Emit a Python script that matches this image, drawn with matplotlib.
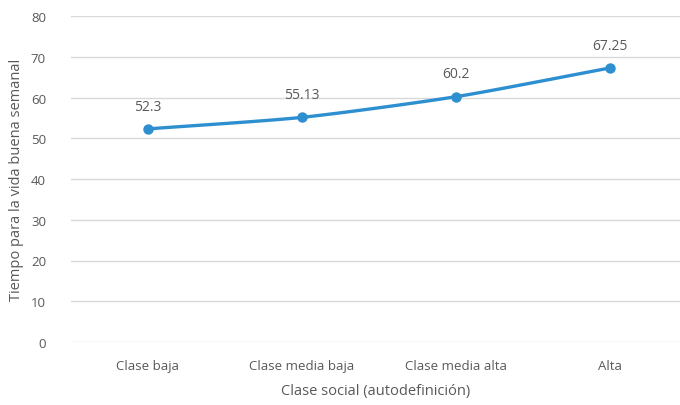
import numpy as np
import matplotlib.pyplot as plt

plt.rcParams['font.family'] = ['Open Sans', 'DejaVu Sans']

categorias = ['Clase baja', 'Clase media baja', 'Clase media alta', 'Alta']
tiempo = [52.3, 55.13, 60.2, 67.25]
etiquetas = ['52.3', '55.13', '60.2', '67.25']
yticks = [0, 10, 20, 30, 40, 50, 60, 70, 80]

color_linea = '#2E8FD0'
gris = '#595959'


def curva_suave(x, y, n=30, k=0.35):
    # curva suavizada tipo Excel (Catmull-Rom con tension reducida)
    x = np.asarray(x, float)
    y = np.asarray(y, float)
    px = np.concatenate([[2 * x[0] - x[1]], x, [2 * x[-1] - x[-2]]])
    py = np.concatenate([[2 * y[0] - y[1]], y, [2 * y[-1] - y[-2]]])
    xs, ys = [], []
    t = np.linspace(0, 1, n)
    h00 = 2 * t ** 3 - 3 * t ** 2 + 1
    h10 = t ** 3 - 2 * t ** 2 + t
    h01 = -2 * t ** 3 + 3 * t ** 2
    h11 = t ** 3 - t ** 2
    for i in range(1, len(px) - 2):
        for p, out in ((px, xs), (py, ys)):
            m1 = k * (p[i + 1] - p[i - 1])
            m2 = k * (p[i + 2] - p[i])
            out.extend(h00 * p[i] + h10 * m1 + h01 * p[i + 1] + h11 * m2)
    return np.array(xs), np.array(ys)


fig = plt.figure(figsize=(6.8, 4.06), dpi=100)
ax = fig.add_axes([71 / 680, 1 - 343 / 406, 609 / 680, 326 / 406])

x = np.arange(len(categorias))
xs, ys = curva_suave(x, tiempo)
ax.plot(xs, ys, color=color_linea, linewidth=2.4, solid_capstyle='round', zorder=3)
ax.plot(x, tiempo, 'o', color=color_linea, markersize=6.5, zorder=4)

for xi, yi, txt in zip(x, tiempo, etiquetas):
    ax.annotate(txt, (xi, yi), xytext=(0, 11), textcoords='offset points',
                ha='center', va='bottom', fontsize=10, color=gris)

ax.set_xlim(-0.5, 3.455)
ax.set_ylim(0, 80)
ax.set_yticks(yticks)
ax.set_xticks(x)
ax.set_xticklabels(categorias)
ax.grid(axis='y', color='#D9D9D9', linewidth=1)
ax.set_axisbelow(True)
for s in ax.spines.values():
    s.set_visible(False)
ax.tick_params(length=0, labelsize=9.5, labelcolor=gris)
ax.tick_params(axis='x', pad=12)
ax.tick_params(axis='y', pad=18)

ax.set_xlabel('Clase social (autodefinición)', fontsize=10.5, color=gris, labelpad=8)
ax.set_ylabel('Tiempo para la vida buena semanal', fontsize=10.5, color=gris, labelpad=5)

fig.savefig('out.png', dpi=100)
